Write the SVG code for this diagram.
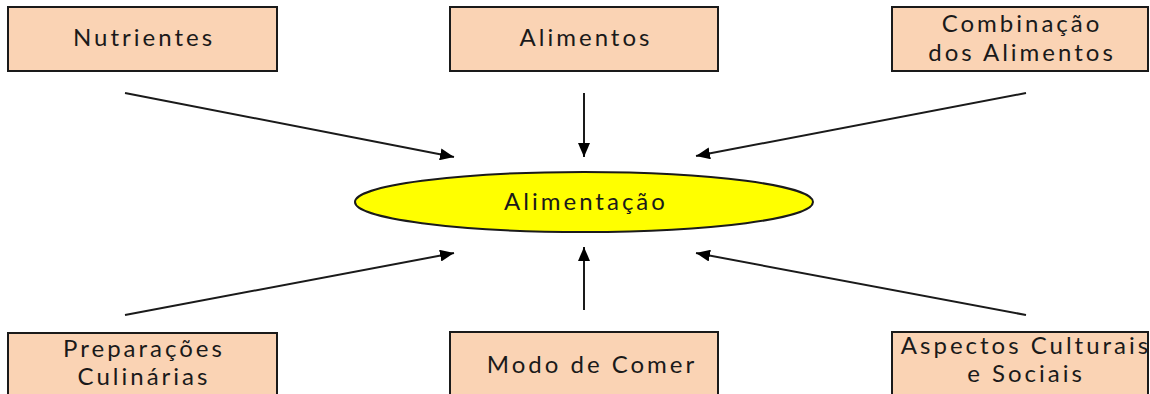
<svg xmlns="http://www.w3.org/2000/svg" width="1150" height="394" viewBox="0 0 1150 394">
<style>
.box{fill:#FAD3B4;stroke:#1a1a1a;stroke-width:2}
.t{font-family:Lato,"Open Sans","Liberation Sans",sans-serif;font-size:24px;fill:#1a1a1a;text-anchor:middle;letter-spacing:3px}
.c{stroke:#1a1a1a;stroke-width:2;fill:none;marker-end:url(#ah)}
</style>
<defs>
<marker id="ah" viewBox="0 0 14 12" refX="14" refY="6" markerWidth="14" markerHeight="12" markerUnits="userSpaceOnUse" orient="auto">
<path d="M0,0 L14,6 L0,12 z" fill="#000"/>
</marker>
</defs>
<rect width="1150" height="394" fill="#fff"/>
<g id="connectors">
<line class="c" x1="125" y1="93" x2="454" y2="157"/>
<line class="c" x1="584" y1="93" x2="584" y2="157"/>
<line class="c" x1="1026" y1="93" x2="696" y2="156"/>
<line class="c" x1="125" y1="315" x2="454" y2="253"/>
<line class="c" x1="584" y1="310" x2="584" y2="247"/>
<line class="c" x1="1026" y1="315" x2="696" y2="253"/>
</g>
<g id="n-nutrientes"><rect class="box" x="8" y="7" width="269" height="64"/><text class="t" x="144" y="46">Nutrientes</text></g>
<g id="n-alimentos"><rect class="box" x="450" y="7" width="268" height="64"/><text class="t" x="586" y="46">Alimentos</text></g>
<g id="n-combinacao"><rect class="box" x="892" y="7" width="256" height="64"/><text class="t" x="1022" y="32">Combinação</text><text class="t" x="1022" y="61">dos Alimentos</text></g>
<g id="n-alimentacao"><ellipse cx="584" cy="202" rx="229" ry="30" fill="#FFFF00" stroke="#1a1a1a" stroke-width="2"/><text class="t" x="586" y="210">Alimentação</text></g>
<g id="n-preparacoes"><rect class="box" x="8" y="333" width="269" height="64"/><text class="t" x="144" y="357">Preparações</text><text class="t" x="144" y="385">Culinárias</text></g>
<g id="n-modo"><rect class="box" x="450" y="332" width="268" height="64"/><text class="t" x="592" y="373">Modo de Comer</text></g>
<g id="n-aspectos"><rect class="box" x="892" y="332" width="256" height="64"/><text class="t" x="1026" y="354">Aspectos Culturais</text><text class="t" x="1026" y="382">e Sociais</text></g>
</svg>
